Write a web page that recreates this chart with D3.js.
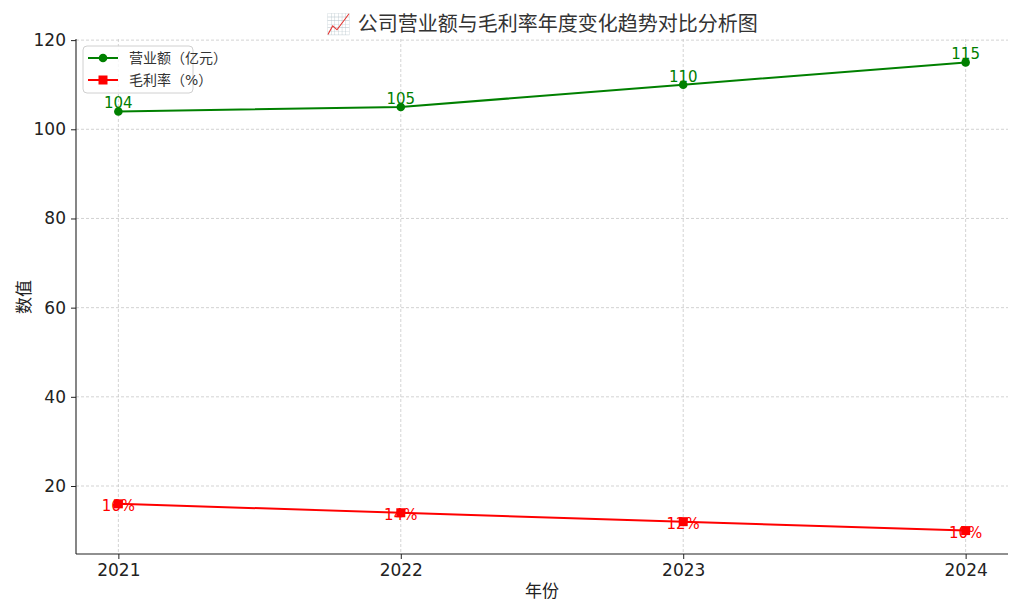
<!DOCTYPE html>
<html><head><meta charset="utf-8">
<script src="https://cdn.jsdelivr.net/npm/d3@7/dist/d3.min.js"></script>
<style>
body{margin:0;background:#fff;}
text{font-family:"DejaVu Sans","Noto Sans CJK SC",sans-serif;}
</style></head>
<body><svg id="c" width="1024" height="614"></svg>
<script>
const years = [2021, 2022, 2023, 2024];
const revenue = [104, 105, 110, 115];
const margin = [16, 14, 12, 10];
const yTicks = [20, 40, 60, 80, 100, 120];
const titleText = "📈 公司营业额与毛利率年度变化趋势对比分析图";
const seriesNames = ["营业额（亿元）", "毛利率（%）"];
const xLabel = "年份", yLabel = "数值";

const svg = d3.select("#c");
const L = 76, R = 1008, T = 39, B = 554;
const x = d3.scaleLinear().domain([2020.85, 2024.15]).range([L, R]);
const y = d3.scaleLinear().domain([4.75, 120.25]).range([B, T]);

// grid
const g = svg.append("g");
g.selectAll(".gx").data(years).enter().append("line")
  .attr("x1", d => x(d)).attr("x2", d => x(d)).attr("y1", T).attr("y2", B)
  .attr("stroke", "#c8c8c8").attr("stroke-width", 0.8).attr("stroke-dasharray", "3,2");
g.selectAll(".gy").data(yTicks).enter().append("line")
  .attr("x1", L).attr("x2", R).attr("y1", d => y(d)).attr("y2", d => y(d))
  .attr("stroke", "#c8c8c8").attr("stroke-width", 0.8).attr("stroke-dasharray", "3,2");

// axes
const xa = svg.append("g").attr("transform", `translate(0,${B})`)
  .call(d3.axisBottom(x).tickValues(years).tickFormat(d3.format("d")).tickSize(5).tickPadding(5));
const ya = svg.append("g").attr("transform", `translate(${L},0)`)
  .call(d3.axisLeft(y).tickValues(yTicks).tickSize(5).tickPadding(5));
[xa, ya].forEach(a => {
  a.select(".domain").attr("stroke", "#222").attr("stroke-width", 1.1);
  a.selectAll(".tick line").attr("stroke", "#222");
  a.selectAll(".tick text").attr("font-size", 17).attr("fill", "#222")
    .style("font-family", "DejaVu Sans");
});
xa.select(".domain").attr("d", `M${L},0H${R}`);
ya.select(".domain").attr("d", `M0,${B}V${T}`);

// lines
const line = d3.line().x((d, i) => x(years[i])).y(d => y(d));
svg.append("path").datum(revenue).attr("d", line).attr("fill", "none")
  .attr("stroke", "green").attr("stroke-width", 2);
svg.append("path").datum(margin).attr("d", line).attr("fill", "none")
  .attr("stroke", "red").attr("stroke-width", 2);
svg.selectAll(".pg").data(revenue).enter().append("circle")
  .attr("cx", (d, i) => x(years[i])).attr("cy", d => y(d)).attr("r", 4.3).attr("fill", "green");
svg.selectAll(".pr").data(margin).enter().append("rect")
  .attr("x", (d, i) => x(years[i]) - 4.5).attr("y", d => y(d) - 4.5)
  .attr("width", 9).attr("height", 9).attr("fill", "red");

// annotations
svg.selectAll(".lg").data(revenue).enter().append("text")
  .attr("x", (d, i) => x(years[i])).attr("y", d => y(d) - 3)
  .attr("text-anchor", "middle").attr("font-size", 15).attr("fill", "green")
  .text(d => d);
svg.selectAll(".lr").data(margin).enter().append("text")
  .attr("x", (d, i) => x(years[i])).attr("y", d => y(d) + 7)
  .attr("text-anchor", "middle").attr("font-size", 15).attr("fill", "red")
  .text(d => d + "%");

// title & labels
svg.append("text").attr("x", 542).attr("y", 31).attr("text-anchor", "middle")
  .attr("font-size", 20).attr("fill", "#333").text(titleText);
svg.append("text").attr("x", 542).attr("y", 597).attr("text-anchor", "middle")
  .attr("font-size", 17).attr("fill", "#222").text(xLabel);
svg.append("text").attr("transform", "translate(30,297) rotate(-90)").attr("text-anchor", "middle")
  .attr("font-size", 17).attr("fill", "#222").text(yLabel);

// legend
const lg = svg.append("g");
lg.append("rect").attr("x", 83).attr("y", 46).attr("width", 110).attr("height", 47).attr("rx", 4)
  .attr("fill", "white").attr("fill-opacity", 0.8).attr("stroke", "#d0d0d0");
const cols = ["green", "red"];
seriesNames.forEach((n, i) => {
  const yy = 58 + i * 22;
  lg.append("line").attr("x1", 88).attr("x2", 118).attr("y1", yy).attr("y2", yy)
    .attr("stroke", cols[i]).attr("stroke-width", 2);
  if (i === 0) lg.append("circle").attr("cx", 103).attr("cy", yy).attr("r", 4.3).attr("fill", "green");
  else lg.append("rect").attr("x", 98.5).attr("y", yy - 4.5).attr("width", 9).attr("height", 9).attr("fill", "red");
  lg.append("text").attr("x", 129).attr("y", yy + 5).attr("font-size", 14).attr("fill", "#333").text(n);
});
</script></body></html>
